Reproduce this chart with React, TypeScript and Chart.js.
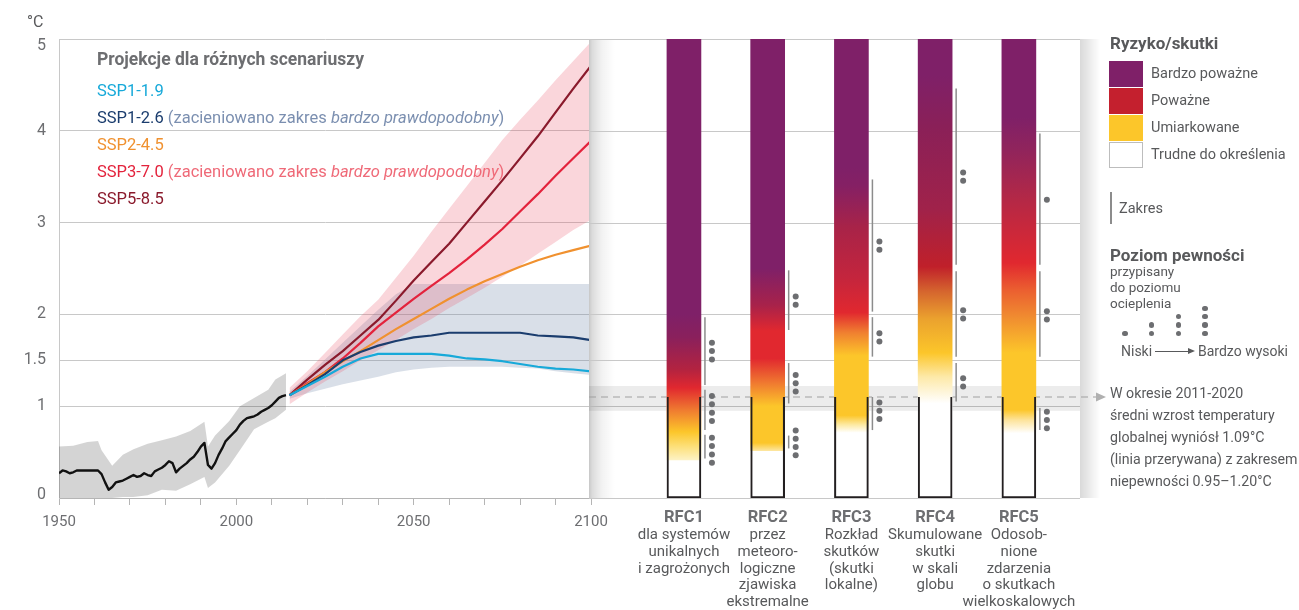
import React, { useEffect, useRef } from 'react';
import { Chart, registerables } from 'chart.js';

Chart.register(...registerables);

const FONT = 'Roboto, "Noto Sans", "DejaVu Sans", sans-serif';
const TEXT = '#58595b';
const TEXT_DARK = '#6d6e71';
const GRID = '#c8c8c8';

// ---------- axes ----------
const tempTicks = [0, 1, 1.5, 2, 3, 4, 5];
const tempMax = 5;
const yearLabels = [1950, 2000, 2050, 2100];

// ---------- observed warming (historical) ----------
const histYears = [
  1950, 1951, 1952, 1953, 1954, 1955, 1956, 1957, 1958, 1959, 1960, 1961, 1962, 1963, 1964, 1965,
  1966, 1967, 1968, 1969, 1970, 1971, 1972, 1973, 1974, 1975, 1976, 1977, 1978, 1979, 1980, 1981,
  1982, 1983, 1984, 1985, 1986, 1987, 1988, 1989, 1990, 1991, 1992, 1993, 1994, 1995, 1996, 1997,
  1998, 1999, 2000, 2001, 2002, 2003, 2004, 2005, 2006, 2007, 2008, 2009, 2010, 2011, 2012, 2013, 2014,
];
const histMean = [
  0.27, 0.3, 0.29, 0.27, 0.28, 0.3, 0.3, 0.3, 0.3, 0.3, 0.3, 0.3, 0.26, 0.17, 0.09, 0.12,
  0.17, 0.18, 0.19, 0.21, 0.23, 0.25, 0.23, 0.24, 0.27, 0.25, 0.24, 0.29, 0.31, 0.33, 0.36, 0.4,
  0.38, 0.28, 0.32, 0.35, 0.38, 0.42, 0.45, 0.5, 0.56, 0.6, 0.36, 0.32, 0.38, 0.47, 0.54, 0.62,
  0.66, 0.7, 0.74, 0.8, 0.84, 0.87, 0.88, 0.89, 0.91, 0.94, 0.96, 0.98, 1.01, 1.05, 1.09, 1.11, 1.12,
];
const histBandYears = [1950, 1954, 1958, 1961, 1962, 1965, 1968, 1971, 1975, 1979, 1983, 1987, 1991, 1992, 1994, 1998, 2001, 2005, 2009, 2011, 2014];
const histBandUpper = [0.56, 0.57, 0.61, 0.62, 0.52, 0.35, 0.47, 0.53, 0.59, 0.63, 0.67, 0.73, 0.83, 0.56, 0.68, 0.84, 1.0, 1.09, 1.18, 1.29, 1.36];
const histBandLower = [0.0, 0.0, 0.0, 0.0, 0.0, 0.0, 0.01, 0.01, 0.03, 0.09, 0.08, 0.15, 0.23, 0.11, 0.17, 0.35, 0.52, 0.75, 0.83, 0.87, 0.96];

// ---------- scenario projections ----------
const projYears = [2015, 2020, 2025, 2030, 2035, 2040, 2045, 2050, 2055, 2060, 2065, 2070, 2075, 2080, 2085, 2090, 2095, 2100];
const ssp119 = [1.12, 1.22, 1.32, 1.43, 1.52, 1.57, 1.57, 1.57, 1.57, 1.55, 1.52, 1.51, 1.49, 1.46, 1.43, 1.41, 1.4, 1.38];
const ssp126 = [1.12, 1.23, 1.35, 1.5, 1.59, 1.66, 1.71, 1.75, 1.77, 1.8, 1.8, 1.8, 1.8, 1.8, 1.77, 1.76, 1.75, 1.72];
const ssp245 = [1.12, 1.24, 1.37, 1.49, 1.6, 1.72, 1.84, 1.95, 2.06, 2.17, 2.27, 2.36, 2.44, 2.52, 2.59, 2.65, 2.7, 2.75];
const ssp370 = [1.12, 1.25, 1.37, 1.52, 1.69, 1.87, 2.02, 2.17, 2.31, 2.45, 2.6, 2.76, 2.93, 3.12, 3.31, 3.51, 3.7, 3.89];
const ssp585 = [1.12, 1.29, 1.45, 1.6, 1.77, 1.94, 2.15, 2.37, 2.57, 2.77, 3.0, 3.23, 3.46, 3.7, 3.94, 4.2, 4.46, 4.71];
const ssp126Lower = [1.08, 1.14, 1.19, 1.24, 1.28, 1.32, 1.37, 1.4, 1.42, 1.43, 1.43, 1.43, 1.43, 1.42, 1.41, 1.38, 1.36, 1.34];
const ssp126Upper = [1.16, 1.33, 1.51, 1.69, 1.87, 2.05, 2.22, 2.33, 2.33, 2.33, 2.33, 2.33, 2.33, 2.33, 2.33, 2.33, 2.33, 2.33];
const ssp370Lower = [1.02, 1.15, 1.27, 1.38, 1.5, 1.61, 1.72, 1.84, 1.95, 2.07, 2.18, 2.29, 2.41, 2.53, 2.66, 2.79, 2.92, 3.03];
const ssp370Upper = [1.2, 1.38, 1.58, 1.78, 1.98, 2.16, 2.4, 2.64, 2.9, 3.15, 3.4, 3.65, 3.9, 4.12, 4.33, 4.55, 4.76, 4.97];

const sspNames = ['SSP1-1.9', 'SSP1-2.6', 'SSP2-4.5', 'SSP3-7.0', 'SSP5-8.5'];
const sspColors = ['#17a9d9', '#1b3d6e', '#f0912f', '#e3233c', '#8a1a2c'];
const sspNoteColors = ['', '#7b8fb0', '', '#ef6a78', ''];
const sspHasNote = [false, true, false, true, false];

// ---------- reasons for concern ----------
const rfcNames = ['RFC1', 'RFC2', 'RFC3', 'RFC4', 'RFC5'];
const rfcDescriptions = [
  ['dla systemów', 'unikalnych', 'i zagrożonych'],
  ['przez', 'meteoro-', 'logiczne', 'zjawiska', 'ekstremalne'],
  ['Rozkład', 'skutków', '(skutki', 'lokalne)'],
  ['Skumulowane', 'skutki', 'w skali', 'globu'],
  ['Odosob-', 'nione', 'zdarzenia', 'o skutkach', 'wielkoskalowych'],
];
const rfcSlots = [1, 2, 3, 4, 5];
const rfcGradients: [number, string][][] = [
  [[0.414, '#fdf2c4'], [0.56, '#fde07a'], [0.72, '#fcc62a'], [0.96, '#ef7a30'], [1.2, '#e1282f'], [1.4, '#b32340'], [1.75, '#8a205c'], [2.0, '#7f2068']],
  [[0.515, '#fde6a0'], [0.6, '#fcc62a'], [1.0, '#fcc62a'], [1.25, '#f07a30'], [1.52, '#e1282f'], [1.82, '#e1282f'], [2.1, '#a8224a'], [2.5, '#7f2068']],
  [[0.72, '#fffdf5'], [0.8, '#fde9a0'], [0.9, '#fcc62a'], [1.55, '#fcc62a'], [1.8, '#f08030'], [2.02, '#e1282f'], [2.4, '#c4253d'], [2.95, '#a82348'], [3.4, '#852064'], [3.6, '#7f2068']],
  [[1.03, '#ffffff'], [1.32, '#fde9a8'], [1.58, '#fcc62a'], [1.95, '#eba22e'], [2.25, '#d5652e'], [2.52, '#c0202a'], [3.15, '#a0224a'], [4.05, '#8a2058'], [4.6, '#7f2068']],
  [[0.705, '#ffffff'], [0.85, '#fde39a'], [0.96, '#fcc62a'], [1.58, '#fcc62a'], [1.97, '#f08c30'], [2.27, '#eb5e30'], [2.56, '#e1282f'], [3.25, '#b42846'], [3.8, '#90245c'], [4.15, '#7f2068']],
];
const rfcRanges = [
  [{ lo: 1.23, hi: 1.97, dots: 3, at: 1.6 }, { lo: 0.74, hi: 1.18, dots: 4, at: 0.975 }, { lo: 0.43, hi: 0.69, dots: 4, at: 0.52 }],
  [{ lo: 1.83, hi: 2.48, dots: 2, at: 2.15 }, { lo: 1.03, hi: 1.47, dots: 3, at: 1.25 }, { lo: 0.54, hi: 0.68, dots: 4, at: 0.6 }],
  [{ lo: 2.03, hi: 3.47, dots: 2, at: 2.75 }, { lo: 1.54, hi: 1.97, dots: 2, at: 1.75 }, { lo: 0.74, hi: 1.1, dots: 3, at: 0.95 }],
  [{ lo: 2.54, hi: 4.46, dots: 2, at: 3.5 }, { lo: 1.54, hi: 2.47, dots: 2, at: 2.0 }, { lo: 1.05, hi: 1.47, dots: 2, at: 1.26 }],
  [{ lo: 2.54, hi: 3.97, dots: 1, at: 3.25 }, { lo: 1.54, hi: 2.47, dots: 2, at: 1.99 }, { lo: 0.74, hi: 0.98, dots: 3, at: 0.85 }],
];
const observedWarming = 1.1;
const observedLow = 0.95;
const observedHigh = 1.22;

// ---------- legend texts ----------
const riskLevels = ['Bardzo poważne', 'Poważne', 'Umiarkowane', 'Trudne do określenia'];
const riskColors = ['#7f2068', '#c4202e', '#fcc62a', '#ffffff'];
const confidenceDots = [1, 2, 3, 4];
const noteLines = [
  'W okresie 2011-2020',
  'średni wzrost temperatury',
  'globalnej wyniósł 1.09°C',
  '(linia przerywana) z zakresem',
  'niepewności 0.95–1.20°C',
];

// y tick labels kept inside the plot's vertical extent (as in the original figure)
const yLabelPlugin = {
  id: 'yLabels',
  afterDraw(chart: any) {
    const { ctx, chartArea: a, scales } = chart;
    const y = scales.y;
    ctx.save();
    ctx.font = `16px ${FONT}`;
    ctx.fillStyle = TEXT_DARK;
    ctx.textAlign = 'right';
    ctx.textBaseline = 'middle';
    tempTicks.forEach((v) => {
      const py = Math.min(a.bottom - 3, Math.max(a.top + 7, y.getPixelForValue(v)));
      ctx.fillText(String(v), a.left - 13, py);
    });
    ctx.restore();
  },
};

function LeftChart() {
  const ref = useRef<HTMLCanvasElement>(null);
  useEffect(() => {
    const canvas = ref.current;
    if (!canvas) return;
    const pts = (xs: number[], ys: number[]) => xs.map((x, i) => ({ x, y: ys[i] }));
    const line = (label: string, xs: number[], ys: number[], color: string, width: number) => ({
      label, data: pts(xs, ys), borderColor: color, backgroundColor: color, borderWidth: width,
      pointRadius: 0, tension: 0, fill: false, order: 0, borderJoinStyle: 'round' as const,
    });
    const edge = (label: string, xs: number[], ys: number[], order: number, fill: any = false, bg = 'rgba(0,0,0,0)') => ({
      label, data: pts(xs, ys), borderWidth: 0, borderColor: 'rgba(0,0,0,0)', backgroundColor: bg,
      pointRadius: 0, tension: 0, fill, order,
    });
    const datasets: any[] = [
      line('obs', histYears, histMean, '#111111', 2.4),
      line(sspNames[0], projYears, ssp119, sspColors[0], 2.2),
      line(sspNames[1], projYears, ssp126, sspColors[1], 2.2),
      line(sspNames[2], projYears, ssp245, sspColors[2], 2.2),
      line(sspNames[3], projYears, ssp370, sspColors[3], 2.2),
      line(sspNames[4], projYears, ssp585, sspColors[4], 2.2),
      edge('obs-lo', histBandYears, histBandLower, 3),
      edge('obs-hi', histBandYears, histBandUpper, 3, 6, 'rgba(0,0,0,0.17)'),
      edge('126-lo', projYears, ssp126Lower, 2),
      edge('126-hi', projYears, ssp126Upper, 2, 8, 'rgba(110,132,168,0.26)'),
      edge('370-lo', projYears, ssp370Lower, 1),
      edge('370-hi', projYears, ssp370Upper, 1, 10, 'rgba(232,78,100,0.23)'),
    ];
    const chart = new Chart(canvas, {
      type: 'line',
      data: { datasets },
      options: {
        animation: false,
        responsive: false,
        devicePixelRatio: 1,
        layout: { padding: { top: 39, right: 29, left: 0, bottom: 0 } },
        plugins: { legend: { display: false }, tooltip: { enabled: false } },
        scales: {
          x: {
            type: 'linear', min: 1950, max: 2100,
            afterFit: (s: any) => { s.height = 112; },
            border: { display: true, color: '#b5b5b5', width: 1 },
            grid: { drawOnChartArea: false, drawTicks: true, tickLength: 7, color: '#b5b5b5' },
            ticks: {
              stepSize: 10, autoSkip: false, maxRotation: 0, color: TEXT_DARK, padding: 8,
              font: { family: FONT, size: 15 },
              callback: (v: any) => (yearLabels.includes(Number(v)) ? String(v) : ''),
            },
          },
          y: {
            type: 'linear', min: 0, max: tempMax,
            afterBuildTicks: (s: any) => { s.ticks = tempTicks.map((v) => ({ value: v })); },
            afterFit: (s: any) => { s.width = 59; },
            border: { display: true, color: GRID, width: 1 },
            grid: { color: GRID, drawTicks: false, lineWidth: 1 },
            ticks: { display: false },
          },
        },
      } as any,
      plugins: [yLabelPlugin],
    });
    return () => chart.destroy();
  }, []);
  return <canvas ref={ref} width={620} height={610} style={{ position: 'absolute', left: 0, top: 0, width: 620, height: 610, zIndex: 1 }} />;
}

const rfcPanelPlugin = {
  id: 'rfcPanel',
  beforeDatasetsDraw(chart: any) {
    const { ctx, chartArea: a, scales } = chart;
    const y = scales.y;
    const left = 0;
    const h = a.bottom - a.top;
    ctx.save();
    ctx.fillStyle = '#ffffff';
    ctx.fillRect(left, a.top, a.right - left, h);
    let g = ctx.createLinearGradient(left, 0, left + 26, 0);
    g.addColorStop(0, 'rgba(0,0,0,0.22)');
    g.addColorStop(0.12, 'rgba(0,0,0,0.14)');
    g.addColorStop(0.5, 'rgba(0,0,0,0.05)');
    g.addColorStop(1, 'rgba(0,0,0,0)');
    ctx.fillStyle = g;
    ctx.fillRect(left, a.top, 26, h);
    g = ctx.createLinearGradient(a.right, 0, a.right + 20, 0);
    g.addColorStop(0, 'rgba(0,0,0,0.15)');
    g.addColorStop(1, 'rgba(0,0,0,0)');
    ctx.fillStyle = g;
    ctx.fillRect(a.right, a.top, 20, h);
    ctx.strokeStyle = GRID;
    ctx.lineWidth = 1;
    tempTicks.forEach((v) => {
      const py = Math.round(y.getPixelForValue(v)) + 0.5;
      ctx.beginPath();
      ctx.moveTo(left, py);
      ctx.lineTo(a.right, py);
      ctx.stroke();
    });
    const bTop = y.getPixelForValue(observedHigh);
    const bBot = y.getPixelForValue(observedLow);
    ctx.fillStyle = 'rgba(0,0,0,0.075)';
    ctx.fillRect(left, bTop, a.right - left, bBot - bTop);
    const dy = y.getPixelForValue(observedWarming);
    ctx.setLineDash([7, 5]);
    ctx.strokeStyle = '#a0a0a0';
    ctx.lineWidth = 1.2;
    ctx.beginPath();
    ctx.moveTo(left, dy);
    ctx.lineTo(a.right + 16, dy);
    ctx.stroke();
    ctx.setLineDash([]);
    ctx.fillStyle = '#b0b0b0';
    ctx.beginPath();
    ctx.moveTo(a.right + 16, dy - 4.5);
    ctx.lineTo(a.right + 26, dy);
    ctx.lineTo(a.right + 16, dy + 4.5);
    ctx.closePath();
    ctx.fill();
    ctx.restore();
  },
  afterDatasetsDraw(chart: any) {
    const { ctx, chartArea: a, scales } = chart;
    const { x, y } = scales;
    ctx.save();
    rfcSlots.forEach((slot, i) => {
      const cx = x.getPixelForValue(slot);
      rfcRanges[i].forEach((seg) => {
        ctx.strokeStyle = '#8c8c8c';
        ctx.lineWidth = 1.5;
        ctx.beginPath();
        ctx.moveTo(cx + 21, y.getPixelForValue(seg.hi));
        ctx.lineTo(cx + 21, y.getPixelForValue(seg.lo));
        ctx.stroke();
        const cy = y.getPixelForValue(seg.at);
        ctx.fillStyle = '#6d6e71';
        for (let k = 0; k < seg.dots; k++) {
          const py = cy + (k - (seg.dots - 1) / 2) * 8.3;
          ctx.beginPath();
          ctx.arc(cx + 28, py, 3, 0, Math.PI * 2);
          ctx.fill();
        }
      });
      ctx.textAlign = 'center';
      ctx.textBaseline = 'middle';
      ctx.fillStyle = TEXT_DARK;
      ctx.font = `bold 16.5px ${FONT}`;
      ctx.fillText(rfcNames[i], cx, a.bottom + 20);
      ctx.fillStyle = TEXT;
      ctx.font = `15px ${FONT}`;
      rfcDescriptions[i].forEach((t, k) => ctx.fillText(t, cx, a.bottom + 37.5 + k * 16.7));
    });
    ctx.restore();
  },
};

function RightChart() {
  const ref = useRef<HTMLCanvasElement>(null);
  useEffect(() => {
    const canvas = ref.current;
    if (!canvas) return;
    const riskFill = (c: any) => {
      const chart = c.chart;
      const area = chart.chartArea;
      const i = c.dataIndex;
      if (!area || i === undefined) return '#7f2068';
      const stops = rfcGradients[i];
      const ys = chart.scales.y;
      const lo = stops[0][0];
      const g = chart.ctx.createLinearGradient(0, ys.getPixelForValue(lo), 0, ys.getPixelForValue(tempMax));
      stops.forEach(([t, col]) => g.addColorStop(Math.min(1, Math.max(0, (t - lo) / (tempMax - lo))), col));
      return g;
    };
    const chart = new Chart(canvas, {
      type: 'bar',
      data: {
        datasets: [
          {
            label: 'outline',
            data: rfcSlots.map((x) => ({ x, y: [0, observedWarming] })),
            backgroundColor: 'rgba(0,0,0,0)',
            borderColor: '#231f20',
            borderWidth: { top: 0, left: 1.4, right: 1.4, bottom: 1.4 },
            borderSkipped: false,
            grouped: false,
            barThickness: 34,
            order: 0,
          },
          {
            label: 'risk',
            data: rfcSlots.map((x, i) => ({ x, y: [rfcGradients[i][0][0], tempMax] })),
            backgroundColor: riskFill,
            borderWidth: 0,
            grouped: false,
            barThickness: 34,
            order: 1,
          },
          {
            label: 'box',
            data: rfcSlots.map((x) => ({ x, y: [0, observedWarming] })),
            backgroundColor: '#ffffff',
            borderWidth: 0,
            grouped: false,
            barThickness: 34,
            order: 2,
          },
        ],
      } as any,
      options: {
        animation: false,
        responsive: false,
        devicePixelRatio: 1,
        layout: { padding: { top: 39, bottom: 112, left: 2, right: 219 } },
        plugins: { legend: { display: false }, tooltip: { enabled: false } },
        scales: {
          x: { type: 'linear', min: -0.11, max: 5.73, display: false, offset: false },
          y: { type: 'linear', min: 0, max: tempMax, display: false },
        },
      } as any,
      plugins: [rfcPanelPlugin],
    });
    return () => chart.destroy();
  }, []);
  return <canvas ref={ref} width={710} height={610} style={{ position: 'absolute', left: 589, top: 0, width: 710, height: 610, zIndex: 2 }} />;
}

function Txt(props: { x: number; cy: number; size: number; lh?: number; bold?: boolean; color?: string; children: React.ReactNode }) {
  const lh = props.lh ?? Math.round(props.size * 1.25);
  return (
    <div
      style={{
        position: 'absolute', left: props.x, top: props.cy - lh / 2, fontSize: props.size, lineHeight: lh + 'px',
        fontFamily: FONT, fontWeight: props.bold ? 700 : 400, color: props.color ?? TEXT, whiteSpace: 'nowrap',
      }}
    >
      {props.children}
    </div>
  );
}

function Legends() {
  return (
    <div style={{ position: 'absolute', left: 0, top: 0, width: 1299, height: 610, zIndex: 3, pointerEvents: 'none' }}>
      <Txt x={27} cy={22} size={16} color={TEXT}>°C</Txt>
      <Txt x={97} cy={59} size={17.5} bold color={TEXT_DARK}>Projekcje dla różnych scenariuszy</Txt>
      {sspNames.map((n, i) => (
        <Txt key={n} x={97} cy={90.5 + i * 27.1} size={16.5} color={sspColors[i]}>
          {n}
          {sspHasNote[i] ? (
            <span style={{ color: sspNoteColors[i] }}>
              {' (zacieniowano zakres '}
              <i>bardzo prawdopodobny</i>)
            </span>
          ) : null}
        </Txt>
      ))}

      <Txt x={1110} cy={43} size={17} bold color={TEXT}>Ryzyko/skutki</Txt>
      {riskLevels.map((r, i) => (
        <React.Fragment key={r}>
          <div
            style={{
              position: 'absolute', left: 1109, top: 61 + i * 27, width: 34, height: 25.5, boxSizing: 'border-box',
              background: riskColors[i], border: i === 3 ? '1px solid #bdbdbd' : 'none',
            }}
          />
          <Txt x={1151} cy={74 + i * 27} size={14.5}>{r}</Txt>
        </React.Fragment>
      ))}
      <div style={{ position: 'absolute', left: 1110, top: 192, width: 1.5, height: 32, background: '#8c8c8c' }} />
      <Txt x={1119} cy={209} size={14.5}>Zakres</Txt>
      <Txt x={1110} cy={255} size={17} bold color={TEXT}>Poziom pewności</Txt>
      <Txt x={1110} cy={271} size={13.5} lh={16}>przypisany</Txt>
      <Txt x={1110} cy={287} size={13.5} lh={16}>do poziomu</Txt>
      <Txt x={1110} cy={303} size={13.5} lh={16}>ocieplenia</Txt>
      {confidenceDots.map((n, i) =>
        Array.from({ length: n }).map((_, k) => (
          <div
            key={`${i}-${k}`}
            style={{
              position: 'absolute', left: 1125 + i * 26.7 - 2.8, top: 333.3 - k * 8.3 - 2.8, width: 5.6, height: 5.6,
              borderRadius: '50%', background: '#6d6e71',
            }}
          />
        ))
      )}
      <Txt x={1121} cy={351} size={14}>Niski</Txt>
      <div style={{ position: 'absolute', left: 1155, top: 350.5, width: 33, height: 1, background: '#58595b' }} />
      <div
        style={{
          position: 'absolute', left: 1188, top: 348, width: 0, height: 0,
          borderTop: '3px solid transparent', borderBottom: '3px solid transparent', borderLeft: '7px solid #58595b',
        }}
      />
      <Txt x={1198} cy={351} size={14}>Bardzo wysoki</Txt>

      {noteLines.map((t, i) => (
        <Txt key={t} x={1110} cy={393 + i * 22} size={14.2} lh={22}>{t}</Txt>
      ))}
    </div>
  );
}

export default function App() {
  return (
    <div style={{ position: 'absolute', left: 0, top: 0, width: 1299, height: 610, background: '#ffffff', overflow: 'hidden' }}>
      <LeftChart />
      <RightChart />
      <Legends />
    </div>
  );
}
